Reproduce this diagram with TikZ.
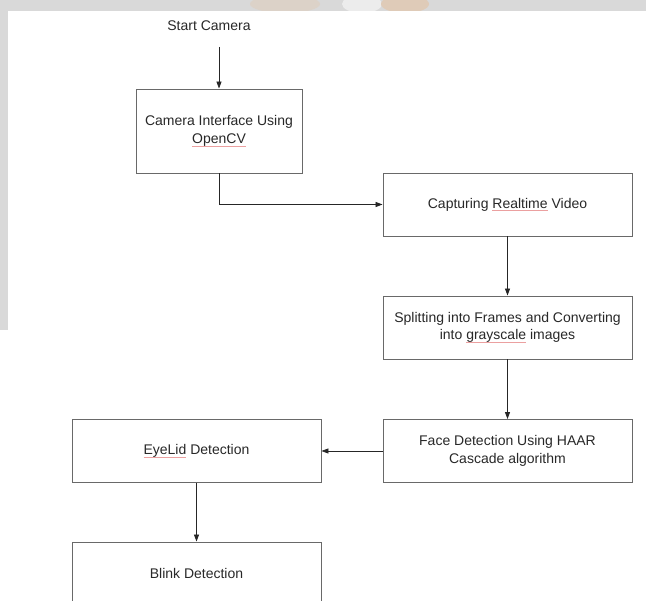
\documentclass[tikz,border=0pt]{standalone}
\usepackage{fontspec}
\setmainfont{Liberation Sans}
\usepackage{xcolor}
\usetikzlibrary{positioning}
\usetikzlibrary{arrows.meta}
\definecolor{bandgray}{RGB}{217,217,217}
\definecolor{boxline}{RGB}{105,105,105}
\definecolor{txtgray}{RGB}{40,40,40}
\definecolor{spellred}{RGB}{235,160,160}
\newsavebox{\spellbox}
\newcommand{\spellmark}[1]{\sbox{\spellbox}{#1}\rlap{\textcolor{spellred}{\rule[-3pt]{\wd\spellbox}{0.6pt}}}\usebox{\spellbox}}

\begin{document}
\begin{tikzpicture}[x=1pt, y=-1pt, >={Triangle[length=7pt,width=5pt]},
    stepbox/.style={draw=boxline, line width=0.9pt, minimum width=249pt, minimum height=63pt,
        align=center, text=txtgray, inner sep=0pt, font=\fontsize{14}{17.5}\selectfont},
    flow/.style={->, draw=black!85, line width=0.8pt}]
    \clip (0,0) rectangle (646,601);
    \fill[white] (0,0) rectangle (646,601);
    % page edge of the screenshot
    \fill[bandgray] (0,0) rectangle (646,11);
    \fill[bandgray] (0,0) rectangle (8,330);
    \begin{scope}
        \clip (0,0) rectangle (646,11);
        \fill[orange!8!bandgray] (285,4) ellipse (35 and 9);
        \fill[white!50!bandgray] (362,4) ellipse (20 and 9);
        \fill[orange!15!bandgray] (405,4) ellipse (24 and 9);
    \end{scope}

    \node[text=txtgray, font=\fontsize{14}{17.5}\selectfont] (start) at (209,26) {Start Camera};
    \coordinate (startend) at (219,47);

    \node[stepbox, minimum width=166pt, minimum height=84pt] (cam) at (219,131) {Camera Interface Using\\\spellmark{OpenCV}};
    \node[stepbox] (cap) at (507.5,204.5) {Capturing \spellmark{Realtime} Video};
    \node[stepbox] (split) at (507.5,327.5) {Splitting into Frames and Converting\\into \spellmark{grayscale} images};
    \node[stepbox] (face) at (507.5,451) {Face Detection Using HAAR\\Cascade algorithm};
    \node[stepbox] (eye) at (196.5,451) {\spellmark{EyeLid} Detection};
    \node[stepbox] (blink) at (196.5,573.5) {Blink Detection};

    \draw[flow] (startend) -- (cam.north);
    \draw[flow] (cam.south) |- (cap.west);
    \draw[flow] (cap) -- (split);
    \draw[flow] (split) -- (face);
    \draw[flow] (face) -- (eye);
    \draw[flow] (eye) -- (blink);
\end{tikzpicture}
\end{document}
